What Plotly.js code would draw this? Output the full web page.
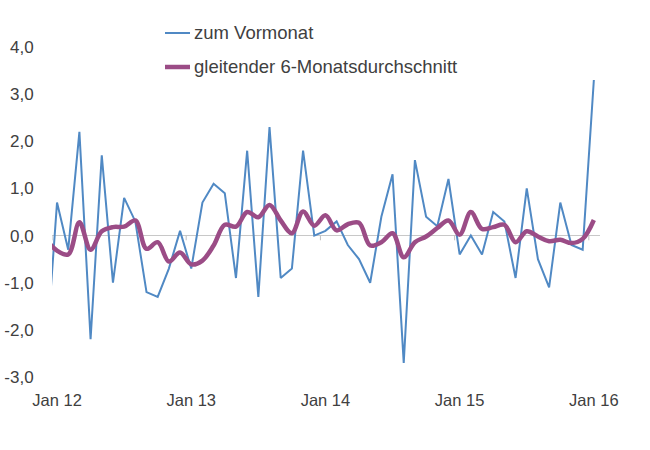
<!DOCTYPE html>
<html>
<head>
<meta charset="utf-8">
<script src="https://cdn.plot.ly/plotly-3.0.1.min.js"></script>
<style>
html, body { margin: 0; padding: 0; background: #ffffff; }
#chart { width: 650px; height: 450px; }
</style>
</head>
<body>
<div id="chart"></div>
<script>
// ---- data ----
const monthNames = ['Jan', 'Feb', 'Mrz', 'Apr', 'Mai', 'Jun', 'Jul', 'Aug', 'Sep', 'Okt', 'Nov', 'Dez'];
const startYear = 2011, startMonth = 11; // Dez 11 (0-based month)
const nMonths = 50;                       // Dez 11 ... Jan 16

const vormonat = [
  -2.6,
  0.7, -0.3, 2.2, -2.2, 1.7, -1.0, 0.8, 0.3, -1.2, -1.3, -0.7, 0.1,
  -0.7, 0.7, 1.1, 0.9, -0.9, 1.8, -1.3, 2.3, -0.9, -0.7, 1.8, 0.0,
  0.1, 0.3, -0.2, -0.5, -1.0, 0.4, 1.3, -2.7, 1.6, 0.4, 0.2, 1.2,
  -0.4, 0.0, -0.4, 0.5, 0.3, -0.9, 1.0, -0.5, -1.1, 0.7, -0.2, -0.3,
  3.3
];

const gleitend = [
  -0.08,
  -0.32, -0.40, 0.28, -0.30, 0.09, 0.18, 0.19, 0.32, -0.28, -0.14, -0.55, -0.36,
  -0.61, -0.53, -0.21, 0.23, 0.19, 0.50, 0.39, 0.65, 0.32, 0.05, 0.51, 0.21,
  0.43, 0.11, 0.24, 0.27, -0.21, -0.14, 0.05, -0.46, -0.14, -0.02, 0.16, 0.32,
  0.02, 0.50, 0.14, 0.18, 0.23, -0.14, 0.09, -0.02, -0.12, -0.09, -0.16, -0.07,
  0.33
];

const xTickVals = ['Jan 12', 'Jan 13', 'Jan 14', 'Jan 15', 'Jan 16'];
const xTickText = ['Jan 12', 'Jan 13', 'Jan 14', 'Jan 15', 'Jan 16'];
const yTickVals = [-3, -2, -1, 0, 1, 2, 3, 4];
const yTickText = ['-3,0', '-2,0', '-1,0', '0,0', '1,0', '2,0', '3,0', '4,0'];
const seriesNames = ['zum Vormonat', 'gleitender 6-Monatsdurchschnitt'];

// month categories
const months = [];
for (let i = 0; i < nMonths; i++) {
  const m = (startMonth + i) % 12;
  const y = startYear + Math.floor((startMonth + i) / 12);
  months.push(monthNames[m] + ' ' + String(y).slice(2));
}

// ---- styles ----
const blue = '#5089c4';
const plum = '#9b4c86';
const textColor = '#404040';
const fontFamily = '"Liberation Sans", Arial, sans-serif';

const traces = [
  {
    x: months, y: vormonat, name: seriesNames[0], type: 'scatter', mode: 'lines',
    line: { color: blue, width: 2 }, showlegend: false
  },
  {
    x: months, y: gleitend, name: seriesNames[1], type: 'scatter', mode: 'lines',
    line: { color: plum, width: 4.5, shape: 'spline', smoothing: 1 }, showlegend: false
  }
];

// plot area geometry (for legend placement in paper units)
const L = 52, R = 50, T = 47, B = 73, W = 650, H = 450;
const pw = W - L - R, ph = H - T - B;
const px = v => (v - L) / pw;
const py = v => (H - B - v) / ph;

const xStart = 0.55;
const shapes = [];
for (let k = 0; k < 5; k++) {
  shapes.push({
    type: 'line', xref: 'x', yref: 'y',
    x0: xStart + 12 * k, x1: xStart + 12 * k, y0: 0, y1: -0.1,
    line: { color: '#bfbfbf', width: 1 }
  });
}
// legend samples
shapes.push({ type: 'line', xref: 'paper', yref: 'paper', x0: px(165), x1: px(190), y0: py(33), y1: py(33), line: { color: blue, width: 2 } });
shapes.push({ type: 'line', xref: 'paper', yref: 'paper', x0: px(165), x1: px(190), y0: py(67), y1: py(67), line: { color: plum, width: 4.5 } });

const annotations = [
  { xref: 'paper', yref: 'paper', x: px(192), y: py(33), xanchor: 'left', yanchor: 'middle', text: seriesNames[0], showarrow: false, font: { size: 18.5, color: textColor, family: fontFamily } },
  { xref: 'paper', yref: 'paper', x: px(192), y: py(67), xanchor: 'left', yanchor: 'middle', text: seriesNames[1], showarrow: false, font: { size: 18.5, color: textColor, family: fontFamily } }
];

const layout = {
  width: W, height: H,
  margin: { l: L, r: R, t: T, b: B, pad: 0 },
  paper_bgcolor: '#ffffff', plot_bgcolor: '#ffffff',
  font: { family: fontFamily, color: textColor, size: 16 },
  showlegend: false,
  xaxis: {
    type: 'category',
    range: [xStart, xStart + 49],
    tickvals: xTickVals, ticktext: xTickText,
    ticks: 'outside', ticklen: 8, tickcolor: 'rgba(0,0,0,0)',
    showgrid: false, showline: false, zeroline: false,
    tickfont: { size: 16.5, color: textColor, family: fontFamily }
  },
  yaxis: {
    range: [-3, 4],
    tickvals: yTickVals, ticktext: yTickText,
    ticks: 'outside', ticklen: 14, tickcolor: 'rgba(0,0,0,0)',
    showgrid: false, showline: false,
    zeroline: true, zerolinecolor: '#c8c8c8', zerolinewidth: 1,
    tickfont: { size: 17, color: textColor, family: fontFamily }
  },
  shapes: shapes,
  annotations: annotations
};

Plotly.newPlot('chart', traces, layout, { staticPlot: true, displayModeBar: false });
</script>
</body>
</html>
